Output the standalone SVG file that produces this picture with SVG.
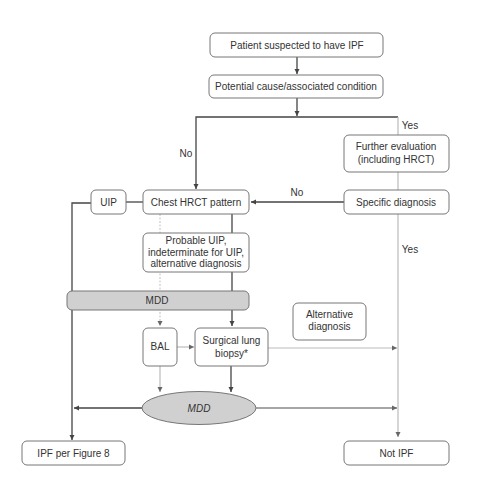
<svg xmlns="http://www.w3.org/2000/svg" width="483" height="492" viewBox="0 0 483 492">
<style>
.box{fill:#fff;stroke:#777;stroke-width:1}
.t{font-family:"Liberation Sans",Arial,sans-serif;font-size:10px;fill:#333;text-anchor:middle}
.dk{stroke:#444;stroke-width:1.3;fill:none}
.lt{stroke:#bbb;stroke-width:1.2;fill:none}
.dot{stroke:#ccc;stroke-width:1.2;fill:none;stroke-dasharray:2 1.5}
</style>
<defs>
<marker id="ad" markerWidth="6" markerHeight="6" refX="5" refY="3" orient="auto" markerUnits="userSpaceOnUse"><path d="M0,0.5 L5,3 L0,5.5 Z" fill="#444"/></marker>
<marker id="al" markerWidth="6" markerHeight="6" refX="5" refY="3" orient="auto" markerUnits="userSpaceOnUse"><path d="M0,0.5 L5,3 L0,5.5 Z" fill="#666"/></marker>
</defs>
<rect width="483" height="492" fill="#fff"/>
<g id="connectors">
<path class="dk" d="M297,57 V74" marker-end="url(#ad)"/>
<path class="dk" d="M297,98 V116" marker-end="url(#ad)"/>
<path class="dk" d="M398,117 H196 V189" marker-end="url(#ad)"/>
<path class="lt" d="M398,117 V437" marker-end="url(#al)"/>
<path class="dk" d="M344,202 H251" marker-end="url(#ad)"/>
<path class="dk" d="M143,202 H126"/>
<path class="dk" d="M91,203 H72 V440" marker-end="url(#ad)"/>
<path class="dk" d="M232,214 V326" marker-end="url(#ad)"/>
<path class="dot" d="M160,214 V326" marker-end="url(#al)"/>
<path class="lt" d="M177,347 H194" marker-end="url(#al)"/>
<path class="lt" d="M268,348 H397" marker-end="url(#al)"/>
<path class="lt" d="M160,366 V392" marker-end="url(#al)"/>
<path class="dk" d="M231,366 V392" marker-end="url(#ad)"/>
<path class="dk" d="M142,408 H74" marker-end="url(#ad)"/>
<path class="dk" d="M256,408 H397" marker-end="url(#al)" style="stroke:#888"/>
</g>
<g id="labels">
<text class="t" x="186" y="157">No</text>
<text class="t" x="410" y="129">Yes</text>
<text class="t" x="297" y="196">No</text>
<text class="t" x="410" y="253">Yes</text>
</g>
<g id="n1"><rect class="box" x="210" y="33" width="173" height="24" rx="5"/><text class="t" x="297" y="48.5">Patient suspected to have IPF</text></g>
<g id="n2"><rect class="box" x="209" y="75" width="174" height="23" rx="5"/><text class="t" x="296" y="90">Potential cause/associated condition</text></g>
<g id="n3"><rect class="box" x="344" y="135" width="105" height="37" rx="5"/><text class="t" x="396" y="150">Further evaluation</text><text class="t" x="396" y="162.5">(including HRCT)</text></g>
<g id="n4"><rect class="box" x="344" y="190" width="105" height="24" rx="5"/><text class="t" x="396" y="205.5">Specific diagnosis</text></g>
<g id="n5"><rect class="box" x="143" y="190" width="106" height="24" rx="5"/><text class="t" x="196" y="205.5">Chest HRCT pattern</text></g>
<g id="n6"><rect class="box" x="91" y="190" width="35" height="24" rx="5"/><text class="t" x="108.5" y="205.5">UIP</text></g>
<g id="n7"><rect class="box" x="143" y="233" width="106" height="39" rx="5"/><text class="t" x="196" y="243.5">Probable UIP,</text><text class="t" x="196" y="255.5">indeterminate for UIP,</text><text class="t" x="196" y="267">alternative diagnosis</text></g>
<g id="n8"><rect x="67" y="291" width="182" height="19" rx="5" fill="#d0d0d0" stroke="#777"/><text class="t" x="157" y="304">MDD</text></g>
<g id="n9"><rect class="box" x="293" y="303" width="73" height="37" rx="5"/><text class="t" x="329.5" y="318">Alternative</text><text class="t" x="329.5" y="330">diagnosis</text></g>
<g id="n10"><rect class="box" x="143" y="328" width="34" height="38" rx="5"/><text class="t" x="160" y="350">BAL</text></g>
<g id="n11"><rect class="box" x="195" y="328" width="73" height="38" rx="5"/><text class="t" x="231.5" y="344">Surgical lung</text><text class="t" x="231.5" y="357">biopsy*</text></g>
<g id="n12"><ellipse cx="199" cy="408" rx="57" ry="16.5" fill="#d0d0d0" stroke="#777"/><text class="t" x="199" y="411.5" font-style="italic">MDD</text></g>
<g id="n13"><rect class="box" x="22" y="441" width="103" height="24" rx="5"/><text class="t" x="73.5" y="456.5">IPF per Figure 8</text></g>
<g id="n14"><rect class="box" x="344" y="441" width="105" height="24" rx="5"/><text class="t" x="396.5" y="456.5">Not IPF</text></g>
</svg>
